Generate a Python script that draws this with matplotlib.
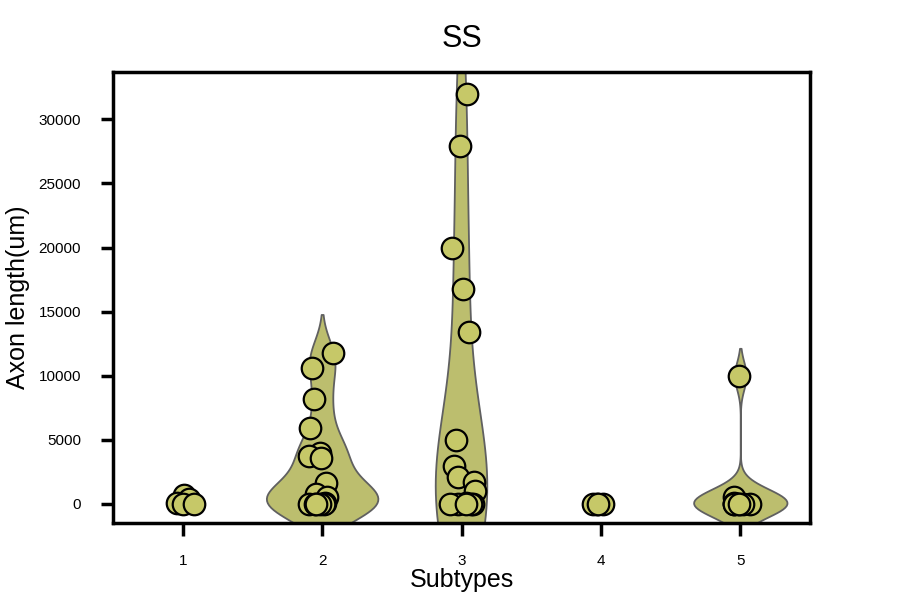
import matplotlib
matplotlib.use("Agg")

import matplotlib.pyplot as plt
import numpy as np
import pandas as pd
import seaborn as sns

# axon lengths per subtype (um)
subtype_1 = [700, 350, 50, 0, 0]
subtype_2 = [11800, 10600, 8200, 5900, 4000, 3700, 3600, 1650, 800, 500, 100, 0, 0, 0, 0, 0]
subtype_3 = [32000, 27900, 20000, 16800, 13400, 5000, 2950, 2100, 1700, 1000, 100, 0, 0, 0, 0, 0]
subtype_4 = [0, 0, 0, 0]
subtype_5 = [10000, 500, 100, 0, 0, 0, 0, 0, 0]

subtypes = ["1", "2", "3", "4", "5"]
all_groups = [subtype_1, subtype_2, subtype_3, subtype_4, subtype_5]

# only subtypes 2, 3, 5 show a violin; (name, width, bw_adjust)
violin_style = [("2", 0.8, 0.65), ("3", 0.37, 1.0), ("5", 0.67, 0.5)]

rows = []
for name, vals in zip(subtypes, all_groups):
    for v in vals:
        rows.append({"Subtypes": name, "length": v})
df = pd.DataFrame(rows)

plt.rcParams['font.family'] = ['Liberation Sans', 'DejaVu Sans']

fig = plt.figure(figsize=(9, 6), dpi=100)
ax = fig.add_axes([0.1256, 0.1283, 0.7744, 0.7517])

for name, w, bw in violin_style:
    sns.violinplot(data=df[df["Subtypes"] == name], x="Subtypes", y="length",
                   order=subtypes, color="#bcbe6e", saturation=1, inner=None,
                   linewidth=1.3, linecolor="#606060", density_norm="width",
                   width=w, bw_adjust=bw, ax=ax)

np.random.seed(3)
sns.stripplot(data=df, x="Subtypes", y="length", order=subtypes,
              color="#c6c868", size=15.5, edgecolor="black", linewidth=1.6,
              jitter=True, ax=ax)

ax.set_ylim(-1500, 33700)
ax.set_xlim(-0.5, 4.5)
ax.set_yticks([0, 5000, 10000, 15000, 20000, 25000, 30000])
ax.set_title("SS", fontsize=22, pad=18)
ax.set_xlabel("Subtypes", fontsize=18, labelpad=0)
ax.set_ylabel("Axon length(um)", fontsize=18, labelpad=6)
ax.tick_params(axis="both", labelsize=11, length=9, width=2.5)
ax.tick_params(axis="x", pad=13)
ax.tick_params(axis="y", pad=14)

for sp in ax.spines.values():
    sp.set_linewidth(2.5)
    sp.set_color("black")

fig.savefig("out.png", dpi=100)
